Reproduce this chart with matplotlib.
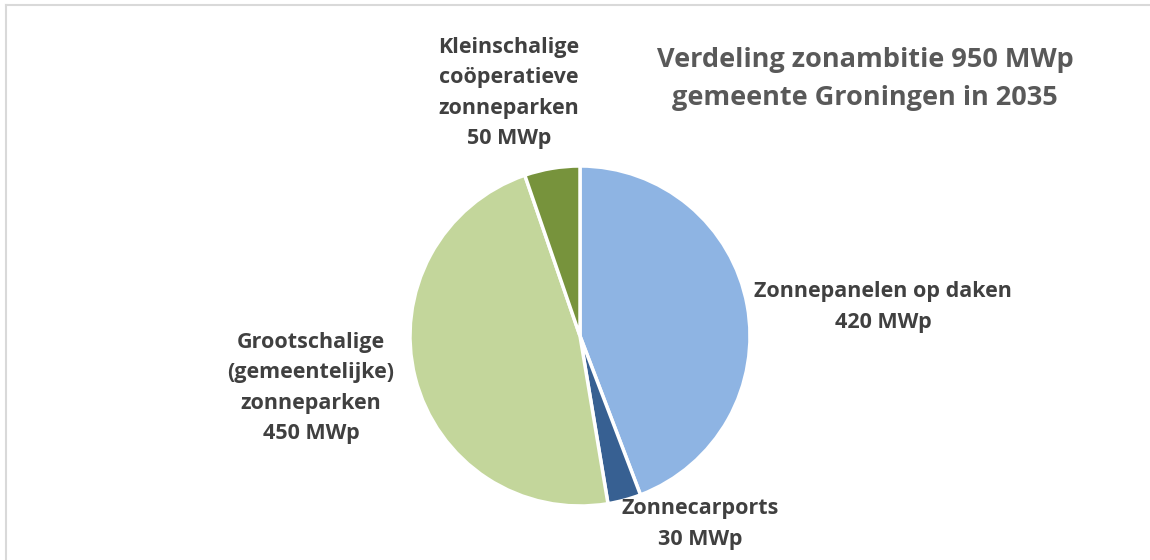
import matplotlib.pyplot as plt
from matplotlib.lines import Line2D

# data
labels = ["Zonnepanelen op daken", "Zonnecarports",
          "Grootschalige\n(gemeentelijke)\nzonneparken", "Kleinschalige\ncoöperatieve\nzonneparken"]
values = [420, 30, 450, 50]
colors = ["#8EB4E3", "#376092", "#C3D69B", "#77933C"]
title = "Verdeling zonambitie 950 MWp\ngemeente Groningen in 2035"

W, H = 1150, 560
fig = plt.figure(figsize=(W / 100, H / 100), dpi=100)
plt.rcParams['font.family'] = ['Open Sans', 'DejaVu Sans']

# pie axes: centre (580, 336), radius 170 px
cx, cy, r = 580, 336, 170
ax = fig.add_axes([(cx - r) / W, (H - cy - r) / H, 2 * r / W, 2 * r / H])
ax.pie(values, colors=colors, startangle=90, counterclock=False,
       wedgeprops=dict(edgecolor="white", linewidth=2.5))
ax.set_xlim(-1, 1)
ax.set_ylim(-1, 1)
ax.set_aspect("equal")
ax.axis("off")

# data labels (pixel positions of label centres)
label_pos = [(883, 307), (700, 524), (311, 388), (509, 93)]
for lab, v, (x, y) in zip(labels, values, label_pos):
    fig.text(x / W, 1 - y / H, "{}\n{} MWp".format(lab, v), ha="center", va="center",
             fontsize=15.5, fontweight="bold", color="#404040", linespacing=1.6)

fig.text(865 / W, 1 - 79 / H, title, ha="center", va="center",
         fontsize=19.5, fontweight="bold", color="#595959", linespacing=1.62)

# chart frame (top and left edges visible)
fig.add_artist(Line2D([6 / W, 1], [1 - 5 / H, 1 - 5 / H], color="#D9D9D9", lw=1.5))
fig.add_artist(Line2D([6 / W, 6 / W], [0, 1 - 5 / H], color="#D9D9D9", lw=1.5))

fig.savefig("out.png", dpi=100)
